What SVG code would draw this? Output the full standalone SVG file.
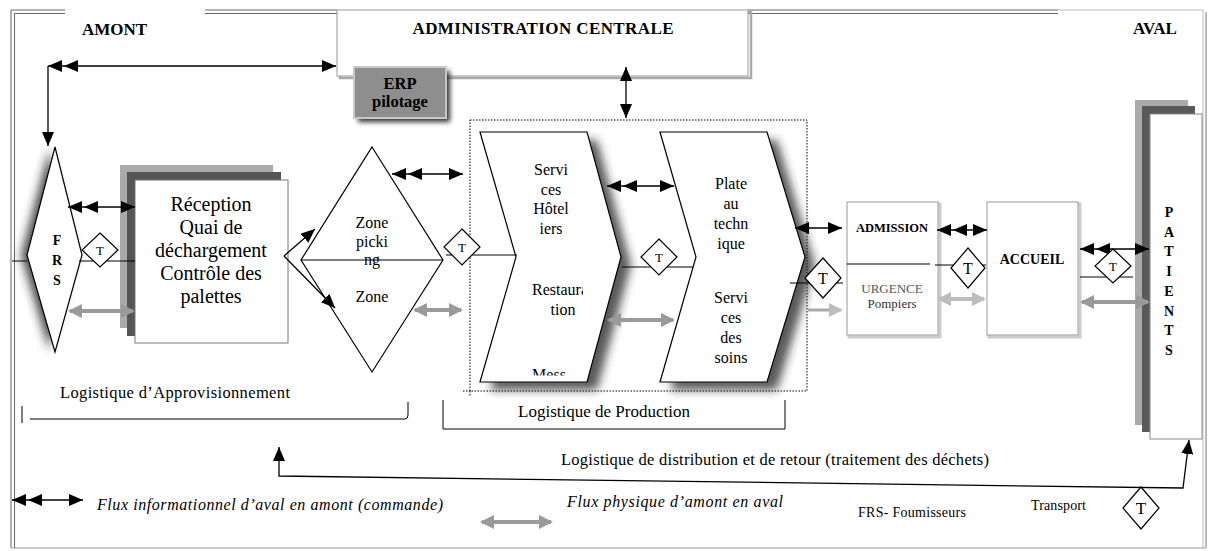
<svg xmlns="http://www.w3.org/2000/svg" width="1208" height="551" viewBox="0 0 1208 551">
<defs>
<style>
.t{font-family:"Liberation Serif","Times New Roman",serif;fill:#000}
.b{font-weight:bold}
.c{text-anchor:middle}
.i{font-style:italic}
.ln{stroke:#000;stroke-width:1;fill:none}
.bk{stroke:#000;stroke-width:1.3;fill:none}
.gr{stroke:#9a9a9a;stroke-width:4;fill:none}
.box{fill:#fff;stroke:#777;stroke-width:1}
.dia{fill:#fff;stroke:#000;stroke-width:1.2}
.fr{stroke:#666;stroke-width:1;fill:none}
</style>
<marker id="a" viewBox="0 0 14 12" refX="14" refY="6" markerWidth="14" markerHeight="12" markerUnits="userSpaceOnUse" orient="auto-start-reverse"><path d="M0,0 L14,6 L0,12 z" fill="#000"/></marker>
<marker id="a2" viewBox="0 0 30 12" refX="30" refY="6" markerWidth="30" markerHeight="12" markerUnits="userSpaceOnUse" orient="auto-start-reverse"><path d="M16,0 L30,6 L16,12 z M0,0 L14,6 L0,12 z" fill="#000"/></marker>
<marker id="g" viewBox="0 0 14 14" refX="12" refY="7" markerWidth="14" markerHeight="14" markerUnits="userSpaceOnUse" orient="auto-start-reverse"><path d="M0,0 L14,7 L0,14 z" fill="#9a9a9a"/></marker>
<marker id="gl" viewBox="0 0 14 14" refX="12" refY="7" markerWidth="14" markerHeight="14" markerUnits="userSpaceOnUse" orient="auto-start-reverse"><path d="M0,0 L14,7 L0,14 z" fill="#bdbdbd"/></marker>
<filter id="blur" x="-50%" y="-50%" width="200%" height="200%"><feGaussianBlur stdDeviation="5"/></filter>
<filter id="blur2" x="-50%" y="-50%" width="200%" height="200%"><feGaussianBlur stdDeviation="2.5"/></filter>
<clipPath id="clipMess"><rect x="500" y="360" width="90" height="15.5"/></clipPath>
<clipPath id="clipRest"><rect x="520" y="270" width="63" height="40"/></clipPath>
</defs>

<g id="frame">
<path class="fr" d="M11,548 V10 H65 M205,10 H337 M748,10 H1058"/>
<path class="fr" d="M14.5,548 V13.5 H65 M205,13.5 H337 M748,13.5 H1058"/>
<path d="M1058,10 H1203 V548" stroke="#bbb" stroke-width="1" fill="none"/>
<path d="M1206,12 V548" stroke="#777" stroke-width="1" fill="none"/>
<path d="M11,548 H1206" stroke="#999" stroke-width="1.2" fill="none"/>
</g>

<g id="titles">
<text class="t b" x="82" y="35" font-size="17">AMONT</text>
<text class="t b" x="1133" y="34" font-size="17">AVAL</text>
</g>

<g id="admin">
<rect x="340" y="12" width="411" height="66" fill="none" stroke="#aaa" stroke-width="2.5"/>
<rect x="337" y="10" width="411" height="66" fill="#fff" stroke="#999" stroke-width="1"/>
<text class="t b c" x="543" y="34" font-size="17" textLength="261">ADMINISTRATION CENTRALE</text>
</g>

<g id="erp">
<rect x="358" y="71" width="92" height="51" fill="#333" filter="url(#blur2)"/>
<rect x="354" y="67" width="92" height="51" fill="#8e8e8e" stroke="#c8c8c8" stroke-width="2"/>
<text class="t b c" x="400" y="89" font-size="16.5">ERP</text>
<text class="t b c" x="400" y="107" font-size="16.5">pilotage</text>
</g>

<g id="frs">
<polygon points="49,150 76,255 49,350 21,255" fill="#222" opacity="0.8" filter="url(#blur)"/>
<polygon points="55,147 82,255 55,352 27,255" fill="#fff" stroke="#000" stroke-width="1.2"/>
<text class="t b c" x="57" y="245" font-size="14">F</text>
<text class="t b c" x="57" y="265" font-size="14">R</text>
<text class="t b c" x="57" y="285" font-size="14">S</text>
</g>

<g id="reception">
<rect x="120" y="165" width="153" height="163" fill="#aaa"/>
<rect x="127" y="172" width="154" height="164" fill="#555"/>
<rect x="135" y="180" width="153" height="163" class="box"/>
<g class="t c" font-size="20">
<text x="211" y="211">Réception</text>
<text x="211" y="234">Quai de</text>
<text x="211" y="257">déchargement</text>
<text x="211" y="280">Contrôle des</text>
<text x="211" y="303">palettes</text>
</g>
</g>

<g id="zone-picking">
<polygon points="372,147 443,260 372,372 301,260" fill="#fff" stroke="#000" stroke-width="1.2"/>
<path class="ln" d="M301,260 H443"/>
<g class="t c" font-size="16">
<text x="372" y="228">Zone</text>
<text x="372" y="247">picki</text>
<text x="372" y="265">ng</text>
<text x="372" y="302">Zone</text>
</g>
</g>

<g id="production-zone">
<rect x="470" y="120" width="337" height="271" fill="none" stroke="#000" stroke-width="1" stroke-dasharray="1.5,1.5"/>
<path d="M470,391 V397 M463,391 H470" stroke="#000" stroke-width="1" stroke-dasharray="1.5,1.5" fill="none"/>
</g>

<g id="services-hoteliers">
<polygon points="490,140 597,140 631,265 597,390 490,390 526,265" fill="#222" opacity="0.75" filter="url(#blur)"/>
<polygon points="480,132 587,132 621,257 587,382 480,382 516,257" fill="#fff" stroke="#000" stroke-width="1.2"/>
<g class="t c" font-size="16">
<text x="551" y="175">Servi</text>
<text x="551" y="195">ces</text>
<text x="551" y="214">Hôtel</text>
<text x="551" y="234">iers</text>
<text x="563" y="315">tion</text>
</g>
<text class="t" x="532" y="295" font-size="16" clip-path="url(#clipRest)">Restaura</text>
<text class="t c" x="549" y="380" font-size="16" clip-path="url(#clipMess)">Mess</text>
</g>

<g id="plateau-technique">
<polygon points="670,140 777,140 815,265 777,390 670,390 706,265" fill="#222" opacity="0.75" filter="url(#blur)"/>
<polygon points="660,132 767,132 805,257 767,382 660,382 696,257" fill="#fff" stroke="#000" stroke-width="1.2"/>
<g class="t c" font-size="16">
<text x="731" y="189">Plate</text>
<text x="731" y="209">au</text>
<text x="731" y="229">techn</text>
<text x="731" y="249">ique</text>
<text x="731" y="303">Servi</text>
<text x="731" y="323">ces</text>
<text x="731" y="343">des</text>
<text x="731" y="363">soins</text>
</g>
</g>

<g id="admission">
<rect x="849" y="204" width="91" height="133" fill="none" stroke="#ccc" stroke-width="3"/>
<rect x="847" y="202" width="91" height="133" fill="#fff" stroke="#999" stroke-width="1"/>
<path class="ln" d="M847,264 H930"/>
<text class="t b c" x="892" y="232" font-size="12.5">ADMISSION</text>
<text class="t c" x="892" y="293" font-size="13" style="fill:#555">URGENCE</text>
<text class="t c" x="892" y="308" font-size="13" style="fill:#333">Pompiers</text>
</g>

<g id="accueil">
<rect x="989" y="204" width="91" height="133" fill="none" stroke="#ccc" stroke-width="3"/>
<rect x="987" y="202" width="91" height="133" fill="#fff" stroke="#999" stroke-width="1"/>
<text class="t b c" x="1032" y="264" font-size="14">ACCUEIL</text>
</g>

<g id="patients">
<rect x="1135" y="100" width="53" height="325" fill="#aaa"/>
<rect x="1142" y="106" width="53" height="326" fill="#5a5a5a"/>
<rect x="1150" y="114" width="52" height="325" fill="#fff" stroke="#888" stroke-width="1"/>
<g class="t b c" font-size="14">
<text x="1169" y="217">P</text>
<text x="1169" y="237">A</text>
<text x="1169" y="256">T</text>
<text x="1169" y="276">I</text>
<text x="1169" y="296">E</text>
<text x="1169" y="316">N</text>
<text x="1169" y="335">T</text>
<text x="1169" y="355">S</text>
</g>
</g>

<g id="connectors">
<path class="ln" d="M12,261 H27 M79,261 H135 M446,255 H517 M622,267 H693 M790,283 H843 M935,265 H986 M1080,277 H1133"/>
<path class="bk" d="M48,66 H336" marker-start="url(#a2)" marker-end="url(#a)"/>
<path class="bk" d="M48,66 V146" marker-end="url(#a)"/>
<path class="bk" d="M626,67 V118" marker-start="url(#a)" marker-end="url(#a)"/>
<path class="bk" d="M68,207 H135" marker-start="url(#a2)" marker-end="url(#a)"/>
<path class="bk" d="M392,174 H463" marker-start="url(#a2)" marker-end="url(#a)"/>
<path class="bk" d="M607,186 H674" marker-start="url(#a2)" marker-end="url(#a)"/>
<path class="bk" d="M795,228 H842" marker-start="url(#a)" marker-end="url(#a)"/>
<path class="bk" d="M937,230 H987" marker-start="url(#a2)" marker-end="url(#a)"/>
<path class="bk" d="M1080,249 H1149" marker-start="url(#a2)" marker-end="url(#a)"/>
<path class="bk" d="M284,256 L315,229" marker-end="url(#a)"/>
<path class="bk" d="M284,256 L335,308" marker-end="url(#a)"/>
<path class="bk" d="M279,447 V476 L1183,488 L1189,440" marker-start="url(#a)" marker-end="url(#a)"/>
<path class="gr" d="M70,311 H133" marker-start="url(#g)" marker-end="url(#g)"/>
<path class="gr" d="M415,310 H461" marker-start="url(#g)" marker-end="url(#g)"/>
<path class="gr" d="M609,320 H673" marker-start="url(#g)" marker-end="url(#g)"/>
<path d="M808,310 H841" stroke="#aaa" stroke-width="3" fill="none" marker-end="url(#gl)"/>
<path d="M939,299 H984" stroke="#bdbdbd" stroke-width="4" fill="none" marker-start="url(#gl)" marker-end="url(#gl)"/>
<path class="gr" d="M1082,302 H1148" marker-start="url(#g)" marker-end="url(#g)"/>
</g>

<g id="transports">
<polygon class="dia" points="100,233 118,250 100,267 82,250"/>
<text class="t c" x="100" y="255" font-size="13">T</text>
<polygon class="dia" points="462,229 480,247 462,265 444,247"/>
<text class="t c" x="462" y="252" font-size="13">T</text>
<polygon class="dia" points="659,239 677,257 659,275 641,257"/>
<text class="t c" x="659" y="262" font-size="13">T</text>
<polygon class="dia" points="823,258 841,278 823,298 805,278"/>
<text class="t c" x="823" y="284" font-size="16">T</text>
<polygon class="dia" points="968,248 985,268 968,288 951,268"/>
<text class="t c" x="968" y="274" font-size="16">T</text>
<polygon class="dia" points="1113,249 1131,266 1113,283 1095,266"/>
<text class="t c" x="1113" y="271" font-size="13">T</text>
</g>

<g id="sections">
<text class="t" x="60" y="398" font-size="16.5" textLength="230">Logistique d’Approvisionnement</text>
<path class="ln" d="M22,406 V423 M30,419 H405 Q408,419 408,415 V402"/>
<text class="t c" x="604" y="417" font-size="17" textLength="172">Logistique de Production</text>
<path class="ln" d="M443,400 V429 H785 V400"/>
<text class="t" x="561" y="465" font-size="16.5" textLength="428">Logistique de distribution et de retour (traitement des déchets)</text>
</g>

<g id="legend">
<path class="bk" d="M12,500 H83" marker-start="url(#a2)" marker-end="url(#a)"/>
<text class="t i" x="97" y="510" font-size="16" textLength="346">Flux informationnel d’aval en amont (commande)</text>
<path class="gr" d="M482,522 H551" marker-start="url(#g)" marker-end="url(#g)"/>
<text class="t i" x="567" y="507" font-size="16" textLength="216">Flux physique d’amont en aval</text>
<text class="t" x="858" y="517" font-size="14" textLength="108">FRS- Foumisseurs</text>
<text class="t" x="1031" y="510" font-size="14" textLength="55">Transport</text>
<polygon class="dia" points="1141,487 1159,508 1141,529 1123,508"/>
<text class="t c" x="1141" y="514" font-size="17">T</text>
</g>
</svg>
